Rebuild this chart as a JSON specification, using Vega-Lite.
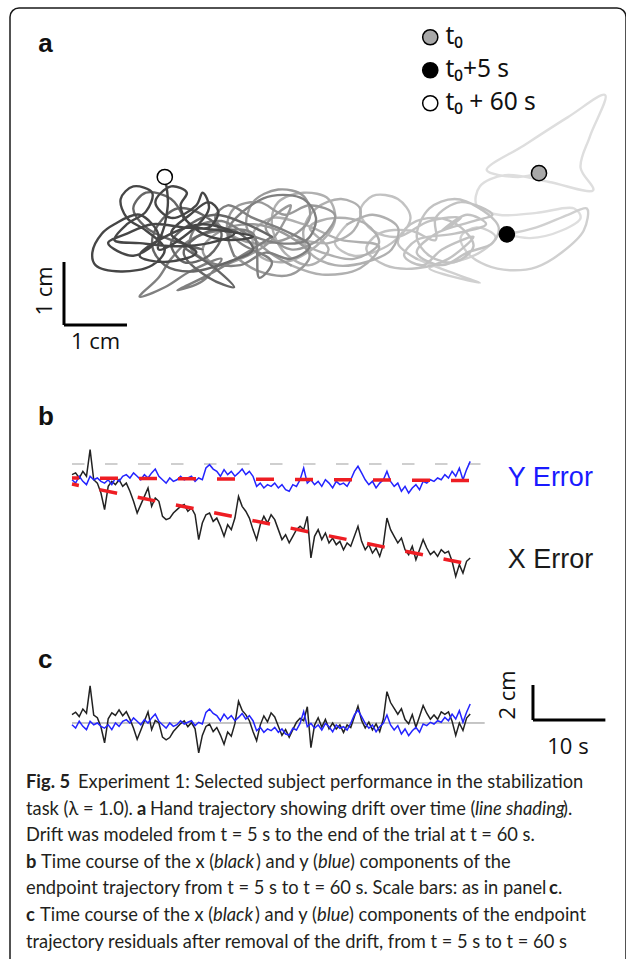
{
"$schema": "https://vega.github.io/schema/vega-lite/v6.json",
"width": 616, "height": 960,
"autosize": "none",
"padding": {"left": 10, "top": 8, "right": 0, "bottom": 0},
"background": "white",
"config": {"view": {"stroke": "#1a1a1a", "strokeWidth": 1.5, "cornerRadius": 9}, "axis": {"disable": true}, "text": {"font": "Lato", "fontSize": 18.3, "color": "#231f20", "align": "left", "baseline": "alphabetic"}},
"datasets": {
"one": [{}],
"traj": [
{"i":0,"s":1,"x":7.54,"y":2.41},{"i":1,"s":1,"x":7.2,"y":2.35},{"i":2,"s":1,"x":6.71,"y":2.46},{"i":3,"s":1,"x":7.3,"y":2.85},{"i":4,"s":1,"x":8.0,"y":3.3},{"i":5,"s":1,"x":8.59,"y":3.65},{"i":6,"s":1,"x":8.35,"y":3.0},{"i":7,"s":1,"x":8.2,"y":2.5},{"i":8,"s":1,"x":8.4,"y":2.14},{"i":9,"s":1,"x":7.7,"y":2.27},{"i":10,"s":1,"x":7.0,"y":2.38},{"i":11,"s":1,"x":6.6,"y":2.2},{"i":12,"s":1,"x":6.55,"y":1.9},{"i":13,"s":1,"x":6.9,"y":1.75},{"i":14,"s":1,"x":7.5,"y":1.78},{"i":15,"s":1,"x":8.1,"y":1.85},{"i":16,"s":1,"x":8.2,"y":1.7},{"i":17,"s":1,"x":7.9,"y":1.5},{"i":18,"s":1,"x":7.4,"y":1.38},{"i":19,"s":1,"x":7.03,"y":1.44},
{"i":20,"s":2,"x":7.03,"y":1.44},{"i":21,"s":2,"x":7.5,"y":1.55},{"i":22,"s":2,"x":8.0,"y":1.75},{"i":23,"s":2,"x":8.3,"y":1.85},{"i":24,"s":2,"x":8.25,"y":1.5},{"i":25,"s":2,"x":7.9,"y":1.15},{"i":26,"s":2,"x":7.5,"y":0.92},{"i":27,"s":2,"x":7.08,"y":0.87},{"i":28,"s":2,"x":6.7,"y":0.95},{"i":29,"s":2,"x":6.4,"y":1.15},{"i":30,"s":2,"x":6.3,"y":1.4},{"i":31,"s":2,"x":6.55,"y":1.55},{"i":32,"s":2,"x":6.85,"y":1.4},{"i":33,"s":2,"x":6.6,"y":1.15},{"i":34,"s":2,"x":6.2,"y":1.0},{"i":35,"s":2,"x":5.8,"y":0.9},{"i":36,"s":2,"x":6.6,"y":0.67},{"i":37,"s":2,"x":6.1,"y":0.85},{"i":38,"s":2,"x":5.6,"y":1.05},
{"i":39,"s":3,"x":5.6,"y":1.05},{"i":40,"s":3,"x":5.3,"y":1.3},{"i":41,"s":3,"x":5.5,"y":1.6},{"i":42,"s":3,"x":5.9,"y":1.7},{"i":43,"s":3,"x":6.3,"y":1.55},{"i":44,"s":3,"x":6.5,"y":1.25},{"i":45,"s":3,"x":6.2,"y":1.0},{"i":46,"s":3,"x":5.8,"y":1.1},{"i":47,"s":3,"x":5.6,"y":1.4},{"i":48,"s":3,"x":5.8,"y":1.85},{"i":49,"s":3,"x":6.2,"y":2.0},{"i":50,"s":3,"x":6.6,"y":1.85},{"i":51,"s":3,"x":6.9,"y":1.55},{"i":52,"s":3,"x":6.8,"y":1.3},{"i":53,"s":3,"x":6.4,"y":1.15},
{"i":53.1,"s":3,"x":6.0,"y":0.95},{"i":53.2,"s":3,"x":5.6,"y":1.15},{"i":53.3,"s":3,"x":5.9,"y":1.45},{"i":53.4,"s":3,"x":6.5,"y":1.65},{"i":53.5,"s":3,"x":6.8,"y":1.75},{"i":53.6,"s":3,"x":6.3,"y":1.95},{"i":53.7,"s":3,"x":5.9,"y":1.7},
{"i":54,"s":3,"x":5.9,"y":1.35},{"i":55,"s":3,"x":5.5,"y":1.5},{"i":56,"s":3,"x":5.0,"y":1.45},{"i":57,"s":3,"x":4.8,"y":1.2},{"i":58,"s":3,"x":5.1,"y":0.95},{"i":59,"s":3,"x":5.6,"y":0.9},{"i":60,"s":3,"x":6.1,"y":1.05},{"i":61,"s":3,"x":6.5,"y":1.4},
{"i":61.1,"s":3,"x":6.0,"y":1.2},{"i":61.2,"s":3,"x":5.7,"y":0.95},{"i":61.3,"s":3,"x":5.4,"y":1.1},{"i":61.4,"s":3,"x":5.6,"y":1.35},{"i":61.5,"s":3,"x":6.2,"y":1.45},{"i":61.6,"s":3,"x":6.7,"y":1.6},{"i":61.7,"s":3,"x":6.4,"y":1.75},{"i":61.8,"s":3,"x":6.0,"y":1.5},
{"i":62,"s":3,"x":6.3,"y":1.7},{"i":63,"s":3,"x":5.8,"y":1.65},{"i":64,"s":3,"x":5.3,"y":1.4},{"i":65,"s":3,"x":4.9,"y":1.5},{"i":66,"s":3,"x":4.7,"y":1.8},{"i":67,"s":3,"x":4.9,"y":2.05},{"i":68,"s":3,"x":5.3,"y":2.0},{"i":69,"s":3,"x":5.5,"y":1.7},{"i":70,"s":3,"x":5.2,"y":1.3},{"i":71,"s":3,"x":4.6,"y":1.1},{"i":72,"s":3,"x":4.3,"y":1.3},{"i":73,"s":3,"x":4.5,"y":1.6},
{"i":74,"s":4,"x":4.5,"y":1.6},{"i":75,"s":4,"x":4.9,"y":1.75},{"i":76,"s":4,"x":5.3,"y":1.55},{"i":77,"s":4,"x":5.2,"y":1.2},{"i":78,"s":4,"x":4.8,"y":1.0},{"i":79,"s":4,"x":4.3,"y":0.95},{"i":80,"s":4,"x":3.9,"y":1.15},{"i":81,"s":4,"x":3.8,"y":1.5},{"i":82,"s":4,"x":4.0,"y":1.85},{"i":83,"s":4,"x":4.4,"y":2.0},{"i":84,"s":4,"x":4.7,"y":1.85},{"i":85,"s":4,"x":4.6,"y":1.5},{"i":86,"s":4,"x":4.2,"y":1.3},{"i":87,"s":4,"x":3.7,"y":1.35},
{"i":87.1,"s":4,"x":4.1,"y":1.15},{"i":87.2,"s":4,"x":4.6,"y":1.05},{"i":87.3,"s":4,"x":5.0,"y":1.3},{"i":87.4,"s":4,"x":4.8,"y":1.6},{"i":87.5,"s":4,"x":4.3,"y":1.7},{"i":87.6,"s":4,"x":3.9,"y":1.55},{"i":87.7,"s":4,"x":4.2,"y":1.2},{"i":87.8,"s":4,"x":3.9,"y":0.95},{"i":87.9,"s":4,"x":3.5,"y":1.15},
{"i":88,"s":4,"x":3.3,"y":1.6},{"i":89,"s":4,"x":3.4,"y":1.95},{"i":90,"s":4,"x":3.8,"y":2.1},{"i":91,"s":4,"x":4.2,"y":2.0},{"i":92,"s":4,"x":4.3,"y":1.65},{"i":93,"s":4,"x":4.0,"y":1.25},{"i":94,"s":4,"x":3.5,"y":1.0},{"i":95,"s":4,"x":3.1,"y":1.1},{"i":96,"s":4,"x":3.0,"y":1.45},{"i":97,"s":4,"x":3.3,"y":1.7},{"i":98,"s":4,"x":3.8,"y":1.6},{"i":99,"s":4,"x":4.4,"y":1.35},{"i":100,"s":4,"x":5.0,"y":1.25},{"i":101,"s":4,"x":4.7,"y":0.9},{"i":102,"s":4,"x":4.1,"y":0.8},{"i":103,"s":4,"x":3.6,"y":0.95},
{"i":104,"s":5,"x":3.6,"y":0.95},{"i":105,"s":5,"x":3.2,"y":1.2},{"i":106,"s":5,"x":2.9,"y":1.55},{"i":107,"s":5,"x":3.0,"y":1.95},{"i":108,"s":5,"x":3.4,"y":2.15},{"i":109,"s":5,"x":3.8,"y":2.05},{"i":110,"s":5,"x":3.9,"y":1.7},{"i":111,"s":5,"x":3.6,"y":1.4},{"i":112,"s":5,"x":3.0,"y":1.3},{"i":113,"s":5,"x":2.6,"y":1.5},{"i":114,"s":5,"x":2.7,"y":1.85},{"i":115,"s":5,"x":3.1,"y":1.95},{"i":116,"s":5,"x":3.5,"y":1.75},
{"i":116.1,"s":5,"x":3.9,"y":1.9},{"i":116.2,"s":5,"x":4.3,"y":1.75},{"i":116.3,"s":5,"x":4.1,"y":1.4},{"i":116.4,"s":5,"x":3.6,"y":1.2},{"i":116.5,"s":5,"x":3.2,"y":1.55},{"i":116.6,"s":5,"x":3.6,"y":1.9},
{"i":117,"s":5,"x":3.3,"y":1.35},{"i":118,"s":5,"x":2.8,"y":1.05},{"i":119,"s":5,"x":2.4,"y":0.95},{"i":120,"s":5,"x":2.2,"y":1.2},{"i":121,"s":5,"x":2.5,"y":1.5},{"i":122,"s":5,"x":3.0,"y":1.6},{"i":123,"s":5,"x":3.5,"y":1.45},{"i":124,"s":5,"x":3.9,"y":1.1},{"i":125,"s":5,"x":3.6,"y":0.8},{"i":126,"s":5,"x":3.1,"y":0.85},{"i":127,"s":5,"x":2.7,"y":1.1},
{"i":128,"s":6,"x":2.7,"y":1.1},{"i":129,"s":6,"x":2.6,"y":1.5},{"i":130,"s":6,"x":2.9,"y":1.85},{"i":131,"s":6,"x":3.3,"y":2.05},{"i":132,"s":6,"x":3.8,"y":2.0},{"i":133,"s":6,"x":4.0,"y":1.7},{"i":134,"s":6,"x":3.85,"y":1.35},{"i":135,"s":6,"x":3.4,"y":1.3},{"i":136,"s":6,"x":2.9,"y":1.45},{"i":137,"s":6,"x":2.5,"y":1.65},{"i":138,"s":6,"x":2.1,"y":1.55},{"i":139,"s":6,"x":2.0,"y":1.25},{"i":140,"s":6,"x":2.3,"y":1.0},{"i":141,"s":6,"x":2.8,"y":0.95},{"i":142,"s":6,"x":3.2,"y":1.15},
{"i":142.1,"s":6,"x":3.6,"y":1.05},{"i":142.2,"s":6,"x":3.9,"y":1.25},{"i":142.3,"s":6,"x":3.5,"y":1.5},{"i":142.4,"s":6,"x":3.0,"y":1.7},{"i":142.5,"s":6,"x":2.6,"y":1.9},{"i":142.6,"s":6,"x":2.4,"y":1.7},{"i":142.7,"s":6,"x":2.8,"y":1.3},{"i":142.8,"s":6,"x":3.3,"y":1.0},{"i":142.9,"s":6,"x":3.1,"y":0.75},
{"i":143,"s":6,"x":3.0,"y":1.45},{"i":144,"s":6,"x":2.5,"y":1.5},{"i":145,"s":6,"x":2.0,"y":1.35},{"i":146,"s":6,"x":1.7,"y":1.05},{"i":147,"s":6,"x":1.5,"y":0.75},{"i":148,"s":6,"x":1.2,"y":0.45},{"i":149,"s":6,"x":1.6,"y":0.6},{"i":150,"s":6,"x":2.0,"y":0.85},{"i":151,"s":6,"x":2.5,"y":1.05},{"i":152,"s":6,"x":2.2,"y":0.7},{"i":153,"s":6,"x":1.8,"y":0.55},{"i":154,"s":6,"x":2.3,"y":0.8},{"i":155,"s":6,"x":2.9,"y":1.15},{"i":156,"s":6,"x":3.3,"y":1.4},
{"i":157,"s":7,"x":3.3,"y":1.4},{"i":158,"s":7,"x":2.9,"y":1.6},{"i":159,"s":7,"x":2.4,"y":1.75},{"i":160,"s":7,"x":2.0,"y":1.6},{"i":161,"s":7,"x":1.7,"y":1.3},{"i":162,"s":7,"x":1.9,"y":1.0},{"i":163,"s":7,"x":2.3,"y":1.1},{"i":164,"s":7,"x":2.5,"y":1.45},{"i":165,"s":7,"x":2.2,"y":1.75},{"i":166,"s":7,"x":1.8,"y":1.85},{"i":167,"s":7,"x":1.5,"y":1.6},{"i":168,"s":7,"x":1.4,"y":1.25},{"i":169,"s":7,"x":1.6,"y":0.95},{"i":170,"s":7,"x":2.0,"y":0.85},{"i":171,"s":7,"x":2.6,"y":1.0},
{"i":171.1,"s":7,"x":3.0,"y":1.2},{"i":171.2,"s":7,"x":2.7,"y":1.5},{"i":171.3,"s":7,"x":2.2,"y":1.45},{"i":171.4,"s":7,"x":1.9,"y":1.15},{"i":171.5,"s":7,"x":2.3,"y":0.75},{"i":171.6,"s":7,"x":2.7,"y":0.6},{"i":171.7,"s":7,"x":2.4,"y":0.9},{"i":171.8,"s":7,"x":1.9,"y":1.25},
{"i":172,"s":7,"x":2.2,"y":1.2},{"i":173,"s":7,"x":1.7,"y":1.35},{"i":174,"s":7,"x":1.3,"y":1.55},{"i":175,"s":7,"x":1.1,"y":1.85},{"i":176,"s":7,"x":1.3,"y":2.1},{"i":177,"s":7,"x":1.7,"y":2.0},{"i":178,"s":7,"x":1.9,"y":1.7},
{"i":179,"s":8,"x":1.9,"y":1.7},{"i":180,"s":8,"x":2.2,"y":1.45},{"i":181,"s":8,"x":2.6,"y":1.35},{"i":182,"s":8,"x":3.0,"y":1.4},{"i":183,"s":8,"x":2.5,"y":1.5},{"i":184,"s":8,"x":1.9,"y":1.55},{"i":185,"s":8,"x":1.4,"y":1.6},{"i":186,"s":8,"x":1.0,"y":1.45},{"i":187,"s":8,"x":0.7,"y":1.3},
{"i":187.1,"s":8,"x":1.1,"y":1.1},{"i":187.2,"s":8,"x":1.5,"y":1.4},{"i":187.3,"s":8,"x":1.2,"y":1.75},{"i":187.4,"s":8,"x":0.8,"y":1.6},{"i":187.5,"s":8,"x":0.6,"y":1.45},
{"i":188,"s":8,"x":0.45,"y":1.15},{"i":189,"s":8,"x":0.5,"y":0.95},{"i":190,"s":8,"x":0.9,"y":0.85},{"i":191,"s":8,"x":1.4,"y":0.95},{"i":192,"s":8,"x":1.6,"y":1.2},{"i":193,"s":8,"x":1.3,"y":1.5},{"i":194,"s":8,"x":1.0,"y":1.7},{"i":195,"s":8,"x":0.9,"y":2.0},{"i":196,"s":8,"x":1.1,"y":2.2},{"i":197,"s":8,"x":1.4,"y":2.1},{"i":198,"s":8,"x":1.3,"y":1.8},{"i":199,"s":8,"x":1.0,"y":1.6},{"i":200,"s":8,"x":0.8,"y":1.35},{"i":201,"s":8,"x":1.2,"y":1.3},
{"i":201.1,"s":8,"x":1.8,"y":1.25},{"i":201.2,"s":8,"x":2.3,"y":1.3},{"i":201.3,"s":8,"x":2.7,"y":1.45},{"i":201.4,"s":8,"x":2.2,"y":1.6},{"i":201.5,"s":8,"x":1.6,"y":1.4},{"i":201.6,"s":8,"x":1.2,"y":1.1},{"i":201.7,"s":8,"x":1.6,"y":1.0},{"i":201.8,"s":8,"x":2.1,"y":1.15},
{"i":202,"s":8,"x":1.7,"y":1.45},{"i":203,"s":8,"x":2.0,"y":1.75},{"i":204,"s":8,"x":2.3,"y":1.95},{"i":205,"s":8,"x":2.45,"y":1.8},{"i":206,"s":8,"x":2.3,"y":1.55},{"i":207,"s":8,"x":2.0,"y":1.6},{"i":208,"s":8,"x":1.85,"y":1.9},{"i":209,"s":8,"x":1.95,"y":2.1},
{"i":209.1,"s":8,"x":1.7,"y":2.2},{"i":209.2,"s":8,"x":1.45,"y":1.95},{"i":209.3,"s":8,"x":1.7,"y":1.7},{"i":209.4,"s":8,"x":2.1,"y":1.9},
{"i":210,"s":8,"x":2.2,"y":2.1},{"i":211,"s":8,"x":2.3,"y":1.85},{"i":212,"s":8,"x":1.9,"y":1.4},{"i":213,"s":8,"x":1.5,"y":1.2},{"i":214,"s":8,"x":1.6,"y":1.6},{"i":215,"s":8,"x":1.65,"y":1.95},{"i":216,"s":8,"x":1.6,"y":2.35}
],
"markers": [
{"marker":"t₀","x":7.54,"y":2.41},
{"marker":"t₀+5 s","x":7.03,"y":1.44},
{"marker":"t₀ + 60 s","x":1.6,"y":2.35}
],
"series": [
{"t":5,"xerr":-0.61,"yerr":-0.9,"xres":0.48,"yres":-0.1},
{"t":5.5,"xerr":-0.51,"yerr":-1.09,"xres":0.62,"yres":-0.29},
{"t":6,"xerr":-0.8,"yerr":-0.7,"xres":0.37,"yres":0.1},
{"t":6.5,"xerr":-0.42,"yerr":-0.99,"xres":0.8,"yres":-0.19},
{"t":7,"xerr":-0.7,"yerr":-1.18,"xres":0.56,"yres":-0.38},
{"t":7.5,"xerr":0.82,"yerr":-0.7,"xres":2.12,"yres":0.1},
{"t":8,"xerr":-0.9,"yerr":-0.9,"xres":0.45,"yres":-0.1},
{"t":8.5,"xerr":-1.09,"yerr":-0.8,"xres":0.3,"yres":0},
{"t":9,"xerr":-1.66,"yerr":-0.99,"xres":-0.23,"yres":-0.19},
{"t":9.5,"xerr":-2.61,"yerr":-1.09,"xres":-1.13,"yres":-0.29},
{"t":10,"xerr":-1.28,"yerr":-0.9,"xres":0.24,"yres":-0.1},
{"t":10.5,"xerr":-0.99,"yerr":-1.18,"xres":0.58,"yres":-0.38},
{"t":11,"xerr":-1.18,"yerr":-0.8,"xres":0.43,"yres":0},
{"t":11.5,"xerr":-0.9,"yerr":-0.99,"xres":0.75,"yres":-0.19},
{"t":12,"xerr":-1.28,"yerr":-0.7,"xres":0.42,"yres":0.1},
{"t":12.5,"xerr":-1.09,"yerr":-0.61,"xres":0.65,"yres":0.19},
{"t":13,"xerr":-1.56,"yerr":-0.8,"xres":0.22,"yres":0},
{"t":13.5,"xerr":-2.13,"yerr":-0.51,"xres":-0.3,"yres":0.29},
{"t":14,"xerr":-2.8,"yerr":-0.7,"xres":-0.93,"yres":0.1},
{"t":14.5,"xerr":-2.32,"yerr":-0.9,"xres":-0.41,"yres":-0.1},
{"t":15,"xerr":-1.85,"yerr":-0.61,"xres":0.11,"yres":0.19},
{"t":15.5,"xerr":-1.37,"yerr":-0.8,"xres":0.63,"yres":0},
{"t":16,"xerr":-2.42,"yerr":-0.51,"xres":-0.38,"yres":0.29},
{"t":16.5,"xerr":-1.94,"yerr":-0.29,"xres":0.15,"yres":0.51},
{"t":17,"xerr":-2.13,"yerr":-0.7,"xres":0,"yres":0.1},
{"t":17.5,"xerr":-2.99,"yerr":-0.9,"xres":-0.81,"yres":-0.1},
{"t":18,"xerr":-3.18,"yerr":-1.09,"xres":-0.96,"yres":-0.29},
{"t":18.5,"xerr":-3.09,"yerr":-0.8,"xres":-0.83,"yres":0},
{"t":19,"xerr":-2.8,"yerr":-0.99,"xres":-0.49,"yres":-0.19},
{"t":19.5,"xerr":-2.61,"yerr":-0.9,"xres":-0.26,"yres":-0.1},
{"t":20,"xerr":-2.42,"yerr":-0.7,"xres":-0.03,"yres":0.13},
{"t":20.5,"xerr":-2.32,"yerr":-0.9,"xres":0.12,"yres":-0.06},
{"t":21,"xerr":-2.7,"yerr":-0.8,"xres":-0.22,"yres":0.04},
{"t":21.5,"xerr":-2.51,"yerr":-0.7,"xres":0.02,"yres":0.13},
{"t":22,"xerr":-2.9,"yerr":-0.99,"xres":-0.33,"yres":-0.15},
{"t":22.5,"xerr":-4.32,"yerr":-0.8,"xres":-1.71,"yres":0.04},
{"t":23,"xerr":-3.37,"yerr":-0.9,"xres":-0.71,"yres":-0.06},
{"t":23.5,"xerr":-2.9,"yerr":-0.23,"xres":-0.2,"yres":0.61},
{"t":24,"xerr":-2.8,"yerr":-0.04,"xres":-0.06,"yres":0.8},
{"t":24.5,"xerr":-3.28,"yerr":-0.29,"xres":-0.49,"yres":0.55},
{"t":25,"xerr":-3.09,"yerr":-0.42,"xres":-0.26,"yres":0.42},
{"t":25.5,"xerr":-3.56,"yerr":-0.7,"xres":-0.69,"yres":0.13},
{"t":26,"xerr":-4.13,"yerr":-0.32,"xres":-1.21,"yres":0.51},
{"t":26.5,"xerr":-3.47,"yerr":-0.61,"xres":-0.51,"yres":0.23},
{"t":27,"xerr":-3.75,"yerr":-0.42,"xres":-0.75,"yres":0.42},
{"t":27.5,"xerr":-3.09,"yerr":-0.7,"xres":-0.04,"yres":0.13},
{"t":28,"xerr":-1.85,"yerr":-0.51,"xres":1.24,"yres":0.32},
{"t":28.5,"xerr":-2.42,"yerr":-0.29,"xres":0.72,"yres":0.55},
{"t":29,"xerr":-2.7,"yerr":-0.61,"xres":0.48,"yres":0.23},
{"t":29.5,"xerr":-3.09,"yerr":-0.42,"xres":0.13,"yres":0.42},
{"t":30,"xerr":-3.75,"yerr":-0.7,"xres":-0.48,"yres":0.13},
{"t":30.5,"xerr":-4.32,"yerr":-1.28,"xres":-1.01,"yres":-0.44},
{"t":31,"xerr":-3.47,"yerr":-1.09,"xres":-0.12,"yres":-0.25},
{"t":31.5,"xerr":-2.99,"yerr":-1.37,"xres":0.41,"yres":-0.53},
{"t":32,"xerr":-3.37,"yerr":-1.18,"xres":0.07,"yres":-0.34},
{"t":32.5,"xerr":-2.9,"yerr":-1.28,"xres":0.58,"yres":-0.44},
{"t":33,"xerr":-3.18,"yerr":-1.09,"xres":0.35,"yres":-0.25},
{"t":33.5,"xerr":-3.75,"yerr":-1.37,"xres":-0.18,"yres":-0.53},
{"t":34,"xerr":-4.32,"yerr":-1.18,"xres":-0.71,"yres":-0.34},
{"t":34.5,"xerr":-4.04,"yerr":-1.47,"xres":-0.38,"yres":-0.63},
{"t":35,"xerr":-4.51,"yerr":-1.56,"xres":-0.81,"yres":-0.69},
{"t":35.5,"xerr":-4.13,"yerr":-1.18,"xres":-0.38,"yres":-0.3},
{"t":36,"xerr":-3.75,"yerr":-1.28,"xres":0.04,"yres":-0.4},
{"t":36.5,"xerr":-3.56,"yerr":-0.9,"xres":0.27,"yres":-0.02},
{"t":37,"xerr":-3.75,"yerr":-0.23,"xres":0.13,"yres":0.65},
{"t":37.5,"xerr":-2.99,"yerr":-1.09,"xres":0.93,"yres":-0.21},
{"t":38,"xerr":-5.37,"yerr":-0.9,"xres":-1.41,"yres":-0.02},
{"t":38.5,"xerr":-4.13,"yerr":-1.18,"xres":-0.12,"yres":-0.3},
{"t":39,"xerr":-3.75,"yerr":-0.99,"xres":0.3,"yres":-0.11},
{"t":39.5,"xerr":-4.32,"yerr":-1.28,"xres":-0.23,"yres":-0.4},
{"t":40,"xerr":-3.94,"yerr":-0.9,"xres":0.2,"yres":-0.02},
{"t":40.5,"xerr":-4.51,"yerr":-1.09,"xres":-0.33,"yres":-0.21},
{"t":41,"xerr":-4.23,"yerr":-1.37,"xres":0,"yres":-0.5},
{"t":41.5,"xerr":-4.61,"yerr":-0.99,"xres":-0.34,"yres":-0.11},
{"t":42,"xerr":-4.42,"yerr":-1.18,"xres":-0.11,"yres":-0.3},
{"t":42.5,"xerr":-4.9,"yerr":-1.09,"xres":-0.54,"yres":-0.21},
{"t":43,"xerr":-4.51,"yerr":-1.28,"xres":-0.11,"yres":-0.4},
{"t":43.5,"xerr":-4.7,"yerr":-0.9,"xres":-0.26,"yres":-0.02},
{"t":44,"xerr":-4.13,"yerr":-0.42,"xres":0.36,"yres":0.46},
{"t":44.5,"xerr":-3.56,"yerr":-0.13,"xres":0.97,"yres":0.74},
{"t":45,"xerr":-4.42,"yerr":-0.51,"xres":0.15,"yres":0.36},
{"t":45.5,"xerr":-4.9,"yerr":-0.9,"xres":-0.28,"yres":-0.02},
{"t":46,"xerr":-4.61,"yerr":-1.18,"xres":0.05,"yres":-0.3},
{"t":46.5,"xerr":-5.09,"yerr":-0.99,"xres":-0.39,"yres":-0.11},
{"t":47,"xerr":-4.8,"yerr":-1.37,"xres":-0.05,"yres":-0.5},
{"t":47.5,"xerr":-5.28,"yerr":-1.09,"xres":-0.49,"yres":-0.21},
{"t":48,"xerr":-4.61,"yerr":-0.9,"xres":0.23,"yres":-0.02},
{"t":48.5,"xerr":-3.09,"yerr":-0.42,"xres":1.79,"yres":0.46},
{"t":49,"xerr":-3.75,"yerr":-0.99,"xres":1.17,"yres":-0.11},
{"t":49.5,"xerr":-4.13,"yerr":-1.28,"xres":0.84,"yres":-0.4},
{"t":50,"xerr":-4.51,"yerr":-1.09,"xres":0.5,"yres":-0.15},
{"t":50.5,"xerr":-4.23,"yerr":-1.56,"xres":0.82,"yres":-0.63},
{"t":51,"xerr":-4.9,"yerr":-1.28,"xres":0.2,"yres":-0.34},
{"t":51.5,"xerr":-5.18,"yerr":-1.66,"xres":-0.04,"yres":-0.72},
{"t":52,"xerr":-4.7,"yerr":-1.37,"xres":0.48,"yres":-0.44},
{"t":52.5,"xerr":-5.47,"yerr":-1.18,"xres":-0.24,"yres":-0.25},
{"t":53,"xerr":-4.9,"yerr":-1.47,"xres":0.37,"yres":-0.53},
{"t":53.5,"xerr":-4.32,"yerr":-0.99,"xres":1,"yres":-0.06},
{"t":54,"xerr":-4.8,"yerr":-1.09,"xres":0.56,"yres":-0.15},
{"t":54.5,"xerr":-5.18,"yerr":-0.9,"xres":0.22,"yres":0.04},
{"t":55,"xerr":-4.99,"yerr":-0.99,"xres":0.46,"yres":-0.06},
{"t":55.5,"xerr":-5.28,"yerr":-0.8,"xres":0.21,"yres":0.13},
{"t":56,"xerr":-4.9,"yerr":-0.9,"xres":0.63,"yres":0.04},
{"t":56.5,"xerr":-5.09,"yerr":-0.61,"xres":0.49,"yres":0.32},
{"t":57,"xerr":-4.99,"yerr":-0.8,"xres":0.63,"yres":0.13},
{"t":57.5,"xerr":-5.56,"yerr":-0.42,"xres":0.1,"yres":0.51},
{"t":58,"xerr":-6.42,"yerr":-0.7,"xres":-0.71,"yres":0.23},
{"t":58.5,"xerr":-5.75,"yerr":-0.23,"xres":0,"yres":0.7},
{"t":59,"xerr":-6.23,"yerr":-0.9,"xres":-0.43,"yres":0.04},
{"t":59.5,"xerr":-5.56,"yerr":-0.32,"xres":0.28,"yres":0.61},
{"t":60,"xerr":-5.37,"yerr":0.15,"xres":0.51,"yres":1.09}
]
},
"layer": [
{
"layer": [
{"data": {"name": "traj"}, "mark": {"type": "line", "interpolate": "catmull-rom", "strokeWidth": 2.4, "strokeCap": "round", "strokeJoin": "round"},
 "encoding": {"x": {"field": "x", "type": "quantitative", "scale": {"domain": [-0.857, 8.921], "nice": false, "zero": false}},
  "y": {"field": "y", "type": "quantitative", "scale": {"domain": [-10.206, 5.032], "nice": false, "zero": false}},
  "stroke": {"field": "s", "type": "ordinal", "legend": null, "scale": {"domain": [1,2,3,4,5,6,7,8], "range": ["#dedede","#d0d0d0","#c2c2c2","#b0b0b0","#9a9a9a","#808080","#666666","#464646"]}},
  "order": {"field": "i", "type": "quantitative"}}},
{"data": {"name": "markers"}, "mark": {"type": "circle", "size": 230, "stroke": "#000", "strokeWidth": 1.5, "opacity": 1},
 "encoding": {"x": {"field": "x", "type": "quantitative", "scale": {"domain": [-0.857, 8.921], "nice": false, "zero": false}},
  "y": {"field": "y", "type": "quantitative", "scale": {"domain": [-10.206, 5.032], "nice": false, "zero": false}},
  "fill": {"field": "marker", "type": "nominal", "scale": {"domain": ["t₀","t₀+5 s","t₀ + 60 s"], "range": ["#a8a8a8","#000000","#ffffff"]},
   "legend": {"orient": "none", "legendX": 408, "legendY": 17, "title": null, "labelFont": "Noto Sans", "labelFontSize": 24.5, "labelColor": "#111", "symbolType": "circle", "symbolSize": 230, "symbolStrokeColor": "#000", "symbolStrokeWidth": 1.5, "symbolOpacity": 1, "rowPadding": 8, "labelOffset": 3, "labelLimit": 300}}}},
{"data": {"name": "one"}, "mark": {"type": "rule", "strokeWidth": 3, "color": "#000"},
 "encoding": {"x": {"datum": 0, "type": "quantitative", "scale": {"domain": [-0.857, 8.921], "nice": false, "zero": false}},
  "y": {"datum": 0, "type": "quantitative", "scale": {"domain": [-10.206, 5.032], "nice": false, "zero": false}},
  "y2": {"datum": 1}}},
{"data": {"name": "one"}, "mark": {"type": "rule", "strokeWidth": 3, "color": "#000"},
 "encoding": {"x": {"datum": 0, "type": "quantitative", "scale": {"domain": [-0.857, 8.921], "nice": false, "zero": false}},
  "x2": {"datum": 1},
  "y": {"datum": 0, "type": "quantitative", "scale": {"domain": [-10.206, 5.032], "nice": false, "zero": false}}}},
{"data": {"name": "one"}, "mark": {"type": "text", "font": "Open Sans", "fontSize": 22, "angle": 270, "align": "center", "baseline": "middle", "color": "#111"},
 "encoding": {"x": {"datum": -0.3, "type": "quantitative", "scale": {"domain": [-0.857, 8.921], "nice": false, "zero": false}},
  "y": {"datum": 0.54, "type": "quantitative", "scale": {"domain": [-10.206, 5.032], "nice": false, "zero": false}},
  "text": {"value": "1 cm"}}},
{"data": {"name": "one"}, "mark": {"type": "text", "font": "Open Sans", "fontSize": 22, "align": "center", "baseline": "middle", "color": "#111"},
 "encoding": {"x": {"datum": 0.5, "type": "quantitative", "scale": {"domain": [-0.857, 8.921], "nice": false, "zero": false}},
  "y": {"datum": -0.27, "type": "quantitative", "scale": {"domain": [-10.206, 5.032], "nice": false, "zero": false}},
  "text": {"value": "1 cm"}}},
{"data": {"name": "one"}, "mark": {"type": "text", "font": "Liberation Sans", "fontWeight": "bold", "fontSize": 26, "align": "left", "baseline": "alphabetic", "color": "#111"},
 "encoding": {"x": {"datum": -0.41, "type": "quantitative", "scale": {"domain": [-0.857, 8.921], "nice": false, "zero": false}},
  "y": {"datum": 4.33, "type": "quantitative", "scale": {"domain": [-10.206, 5.032], "nice": false, "zero": false}},
  "text": {"value": "a"}}}
]
},
{
"data": {"name": "series"},
"layer": [
{"data": {"name": "one"}, "mark": {"type": "rule", "color": "#a0a0a0", "strokeWidth": 1.2, "strokeDash": [12.5, 20.5]},
 "encoding": {"x": {"datum": 5, "type": "quantitative", "scale": {"domain": [-3.564, 81.519], "nice": false, "zero": false}},
  "x2": {"datum": 62},
  "y": {"datum": 0, "type": "quantitative", "scale": {"domain": [-28.8, 26.057], "nice": false, "zero": false}}}},
{"mark": {"type": "line", "color": "#222222", "strokeWidth": 1.5},
 "encoding": {"x": {"field": "t", "type": "quantitative", "scale": {"domain": [-3.564, 81.519], "nice": false, "zero": false}},
  "y": {"field": "xerr", "type": "quantitative", "scale": {"domain": [-28.8, 26.057], "nice": false, "zero": false}}}},
{"mark": {"type": "line", "color": "#2424ff", "strokeWidth": 1.5},
 "encoding": {"x": {"field": "t", "type": "quantitative", "scale": {"domain": [-3.564, 81.519], "nice": false, "zero": false}},
  "y": {"field": "yerr", "type": "quantitative", "scale": {"domain": [-28.8, 26.057], "nice": false, "zero": false}}}},
{"transform": [{"regression": "xerr", "on": "t", "extent": [5, 60]}],
 "mark": {"type": "line", "color": "#ee1d23", "strokeWidth": 3.5, "strokeDash": [18, 21], "strokeDashOffset": 11, "strokeCap": "butt"},
 "encoding": {"x": {"field": "t", "type": "quantitative", "scale": {"domain": [-3.564, 81.519], "nice": false, "zero": false}},
  "y": {"field": "xerr", "type": "quantitative", "scale": {"domain": [-28.8, 26.057], "nice": false, "zero": false}}}},
{"transform": [{"regression": "yerr", "on": "t", "extent": [5, 60]}],
 "mark": {"type": "line", "color": "#ee1d23", "strokeWidth": 3.5, "strokeDash": [18, 21], "strokeDashOffset": 11, "strokeCap": "butt"},
 "encoding": {"x": {"field": "t", "type": "quantitative", "scale": {"domain": [-3.564, 81.519], "nice": false, "zero": false}},
  "y": {"field": "yerr", "type": "quantitative", "scale": {"domain": [-28.8, 26.057], "nice": false, "zero": false}}}},
{"data": {"name": "one"}, "mark": {"type": "text", "font": "Liberation Sans", "fontSize": 27, "align": "left", "baseline": "middle", "color": "#1a1aff"},
 "encoding": {"x": {"datum": 65.2, "type": "quantitative", "scale": {"domain": [-3.564, 81.519], "nice": false, "zero": false}},
  "y": {"datum": -0.8, "type": "quantitative", "scale": {"domain": [-28.8, 26.057], "nice": false, "zero": false}},
  "text": {"value": "Y Error"}}},
{"data": {"name": "one"}, "mark": {"type": "text", "font": "Liberation Sans", "fontSize": 27, "align": "left", "baseline": "middle", "color": "#1a1a1a"},
 "encoding": {"x": {"datum": 65.2, "type": "quantitative", "scale": {"domain": [-3.564, 81.519], "nice": false, "zero": false}},
  "y": {"datum": -5.49, "type": "quantitative", "scale": {"domain": [-28.8, 26.057], "nice": false, "zero": false}},
  "text": {"value": "X Error"}}},
{"data": {"name": "one"}, "mark": {"type": "text", "font": "Liberation Sans", "fontWeight": "bold", "fontSize": 26, "align": "left", "baseline": "alphabetic", "color": "#111"},
 "encoding": {"x": {"datum": 0.3, "type": "quantitative", "scale": {"domain": [-3.564, 81.519], "nice": false, "zero": false}},
  "y": {"datum": 2.23, "type": "quantitative", "scale": {"domain": [-28.8, 26.057], "nice": false, "zero": false}},
  "text": {"value": "b"}}}
]
},
{
"data": {"name": "series"},
"layer": [
{"data": {"name": "one"}, "mark": {"type": "rule", "color": "#8c8c8c", "strokeWidth": 1},
 "encoding": {"x": {"datum": 5, "type": "quantitative", "scale": {"domain": [-3.564, 81.519], "nice": false, "zero": false}},
  "x2": {"datum": 62},
  "y": {"datum": 0, "type": "quantitative", "scale": {"domain": [-14.0, 40.857], "nice": false, "zero": false}}}},
{"mark": {"type": "line", "color": "#222222", "strokeWidth": 1.5},
 "encoding": {"x": {"field": "t", "type": "quantitative", "scale": {"domain": [-3.564, 81.519], "nice": false, "zero": false}},
  "y": {"field": "xres", "type": "quantitative", "scale": {"domain": [-14.0, 40.857], "nice": false, "zero": false}}}},
{"mark": {"type": "line", "color": "#2424ff", "strokeWidth": 1.5},
 "encoding": {"x": {"field": "t", "type": "quantitative", "scale": {"domain": [-3.564, 81.519], "nice": false, "zero": false}},
  "y": {"field": "yres", "type": "quantitative", "scale": {"domain": [-14.0, 40.857], "nice": false, "zero": false}}}},
{"data": {"name": "one"}, "mark": {"type": "rule", "strokeWidth": 3, "color": "#000"},
 "encoding": {"x": {"datum": 68.67, "type": "quantitative", "scale": {"domain": [-3.564, 81.519], "nice": false, "zero": false}},
  "y": {"datum": 0.17, "type": "quantitative", "scale": {"domain": [-14.0, 40.857], "nice": false, "zero": false}},
  "y2": {"datum": 2.17}}},
{"data": {"name": "one"}, "mark": {"type": "rule", "strokeWidth": 3, "color": "#000"},
 "encoding": {"x": {"datum": 68.67, "type": "quantitative", "scale": {"domain": [-3.564, 81.519], "nice": false, "zero": false}},
  "x2": {"datum": 78.67},
  "y": {"datum": 0.17, "type": "quantitative", "scale": {"domain": [-14.0, 40.857], "nice": false, "zero": false}}}},
{"data": {"name": "one"}, "mark": {"type": "text", "font": "Open Sans", "fontSize": 22, "angle": 270, "align": "center", "baseline": "middle", "color": "#111"},
 "encoding": {"x": {"datum": 65.2, "type": "quantitative", "scale": {"domain": [-3.564, 81.519], "nice": false, "zero": false}},
  "y": {"datum": 1.6, "type": "quantitative", "scale": {"domain": [-14.0, 40.857], "nice": false, "zero": false}},
  "text": {"value": "2 cm"}}},
{"data": {"name": "one"}, "mark": {"type": "text", "font": "Open Sans", "fontSize": 22, "align": "center", "baseline": "middle", "color": "#111"},
 "encoding": {"x": {"datum": 73.5, "type": "quantitative", "scale": {"domain": [-3.564, 81.519], "nice": false, "zero": false}},
  "y": {"datum": -1.37, "type": "quantitative", "scale": {"domain": [-14.0, 40.857], "nice": false, "zero": false}},
  "text": {"value": "10 s"}}},
{"data": {"name": "one"}, "mark": {"type": "text", "font": "Liberation Sans", "fontWeight": "bold", "fontSize": 26, "align": "left", "baseline": "alphabetic", "color": "#111"},
 "encoding": {"x": {"datum": 0.3, "type": "quantitative", "scale": {"domain": [-3.564, 81.519], "nice": false, "zero": false}},
  "y": {"datum": 3.14, "type": "quantitative", "scale": {"domain": [-14.0, 40.857], "nice": false, "zero": false}},
  "text": {"value": "c"}}}
]
},
{
"data": {"name": "one"},
"layer": [
{"mark": {"type": "text", "fontWeight": "bold"}, "encoding": {"x": {"datum": 26, "type": "quantitative", "scale": {"domain": [10, 626], "nice": false, "zero": false}}, "y": {"datum": 1, "type": "quantitative", "scale": {"domain": [-28.323, 7.767], "reverse": true, "nice": false, "zero": false}}, "text": {"value": "Fig. 5"}}},
{"mark": {"type": "text"}, "encoding": {"x": {"datum": 78, "type": "quantitative", "scale": {"domain": [10, 626], "nice": false, "zero": false}}, "y": {"datum": 1, "type": "quantitative", "scale": {"domain": [-28.323, 7.767], "reverse": true, "nice": false, "zero": false}}, "text": {"value": "Experiment 1: Selected subject performance in the stabilization"}}},
{"mark": {"type": "text"}, "encoding": {"x": {"datum": 26, "type": "quantitative", "scale": {"domain": [10, 626], "nice": false, "zero": false}}, "y": {"datum": 2, "type": "quantitative", "scale": {"domain": [-28.323, 7.767], "reverse": true, "nice": false, "zero": false}}, "text": {"value": "task (λ = 1.0)."}}},
{"mark": {"type": "text", "fontWeight": "bold"}, "encoding": {"x": {"datum": 137, "type": "quantitative", "scale": {"domain": [10, 626], "nice": false, "zero": false}}, "y": {"datum": 2, "type": "quantitative", "scale": {"domain": [-28.323, 7.767], "reverse": true, "nice": false, "zero": false}}, "text": {"value": "a"}}},
{"mark": {"type": "text"}, "encoding": {"x": {"datum": 150, "type": "quantitative", "scale": {"domain": [10, 626], "nice": false, "zero": false}}, "y": {"datum": 2, "type": "quantitative", "scale": {"domain": [-28.323, 7.767], "reverse": true, "nice": false, "zero": false}}, "text": {"value": "Hand trajectory showing drift over time ("}}},
{"mark": {"type": "text", "fontStyle": "italic"}, "encoding": {"x": {"datum": 475, "type": "quantitative", "scale": {"domain": [10, 626], "nice": false, "zero": false}}, "y": {"datum": 2, "type": "quantitative", "scale": {"domain": [-28.323, 7.767], "reverse": true, "nice": false, "zero": false}}, "text": {"value": "line shading"}}},
{"mark": {"type": "text"}, "encoding": {"x": {"datum": 563, "type": "quantitative", "scale": {"domain": [10, 626], "nice": false, "zero": false}}, "y": {"datum": 2, "type": "quantitative", "scale": {"domain": [-28.323, 7.767], "reverse": true, "nice": false, "zero": false}}, "text": {"value": ")."}}},
{"mark": {"type": "text"}, "encoding": {"x": {"datum": 26, "type": "quantitative", "scale": {"domain": [10, 626], "nice": false, "zero": false}}, "y": {"datum": 3, "type": "quantitative", "scale": {"domain": [-28.323, 7.767], "reverse": true, "nice": false, "zero": false}}, "text": {"value": "Drift was modeled from t = 5 s to the end of the trial at t = 60 s."}}},
{"mark": {"type": "text", "fontWeight": "bold"}, "encoding": {"x": {"datum": 26, "type": "quantitative", "scale": {"domain": [10, 626], "nice": false, "zero": false}}, "y": {"datum": 4, "type": "quantitative", "scale": {"domain": [-28.323, 7.767], "reverse": true, "nice": false, "zero": false}}, "text": {"value": "b"}}},
{"mark": {"type": "text"}, "encoding": {"x": {"datum": 41, "type": "quantitative", "scale": {"domain": [10, 626], "nice": false, "zero": false}}, "y": {"datum": 4, "type": "quantitative", "scale": {"domain": [-28.323, 7.767], "reverse": true, "nice": false, "zero": false}}, "text": {"value": "Time course of the x ("}}},
{"mark": {"type": "text", "fontStyle": "italic"}, "encoding": {"x": {"datum": 214, "type": "quantitative", "scale": {"domain": [10, 626], "nice": false, "zero": false}}, "y": {"datum": 4, "type": "quantitative", "scale": {"domain": [-28.323, 7.767], "reverse": true, "nice": false, "zero": false}}, "text": {"value": "black"}}},
{"mark": {"type": "text"}, "encoding": {"x": {"datum": 256, "type": "quantitative", "scale": {"domain": [10, 626], "nice": false, "zero": false}}, "y": {"datum": 4, "type": "quantitative", "scale": {"domain": [-28.323, 7.767], "reverse": true, "nice": false, "zero": false}}, "text": {"value": ") and y ("}}},
{"mark": {"type": "text", "fontStyle": "italic"}, "encoding": {"x": {"datum": 318, "type": "quantitative", "scale": {"domain": [10, 626], "nice": false, "zero": false}}, "y": {"datum": 4, "type": "quantitative", "scale": {"domain": [-28.323, 7.767], "reverse": true, "nice": false, "zero": false}}, "text": {"value": "blue"}}},
{"mark": {"type": "text"}, "encoding": {"x": {"datum": 350, "type": "quantitative", "scale": {"domain": [10, 626], "nice": false, "zero": false}}, "y": {"datum": 4, "type": "quantitative", "scale": {"domain": [-28.323, 7.767], "reverse": true, "nice": false, "zero": false}}, "text": {"value": ") components of the"}}},
{"mark": {"type": "text"}, "encoding": {"x": {"datum": 26, "type": "quantitative", "scale": {"domain": [10, 626], "nice": false, "zero": false}}, "y": {"datum": 5, "type": "quantitative", "scale": {"domain": [-28.323, 7.767], "reverse": true, "nice": false, "zero": false}}, "text": {"value": "endpoint trajectory from t = 5 s to t = 60 s. Scale bars: as in panel"}}},
{"mark": {"type": "text", "fontWeight": "bold"}, "encoding": {"x": {"datum": 549, "type": "quantitative", "scale": {"domain": [10, 626], "nice": false, "zero": false}}, "y": {"datum": 5, "type": "quantitative", "scale": {"domain": [-28.323, 7.767], "reverse": true, "nice": false, "zero": false}}, "text": {"value": "c"}}},
{"mark": {"type": "text"}, "encoding": {"x": {"datum": 558, "type": "quantitative", "scale": {"domain": [10, 626], "nice": false, "zero": false}}, "y": {"datum": 5, "type": "quantitative", "scale": {"domain": [-28.323, 7.767], "reverse": true, "nice": false, "zero": false}}, "text": {"value": "."}}},
{"mark": {"type": "text", "fontWeight": "bold"}, "encoding": {"x": {"datum": 26, "type": "quantitative", "scale": {"domain": [10, 626], "nice": false, "zero": false}}, "y": {"datum": 6, "type": "quantitative", "scale": {"domain": [-28.323, 7.767], "reverse": true, "nice": false, "zero": false}}, "text": {"value": "c"}}},
{"mark": {"type": "text"}, "encoding": {"x": {"datum": 40, "type": "quantitative", "scale": {"domain": [10, 626], "nice": false, "zero": false}}, "y": {"datum": 6, "type": "quantitative", "scale": {"domain": [-28.323, 7.767], "reverse": true, "nice": false, "zero": false}}, "text": {"value": "Time course of the x ("}}},
{"mark": {"type": "text", "fontStyle": "italic"}, "encoding": {"x": {"datum": 213, "type": "quantitative", "scale": {"domain": [10, 626], "nice": false, "zero": false}}, "y": {"datum": 6, "type": "quantitative", "scale": {"domain": [-28.323, 7.767], "reverse": true, "nice": false, "zero": false}}, "text": {"value": "black"}}},
{"mark": {"type": "text"}, "encoding": {"x": {"datum": 255, "type": "quantitative", "scale": {"domain": [10, 626], "nice": false, "zero": false}}, "y": {"datum": 6, "type": "quantitative", "scale": {"domain": [-28.323, 7.767], "reverse": true, "nice": false, "zero": false}}, "text": {"value": ") and y ("}}},
{"mark": {"type": "text", "fontStyle": "italic"}, "encoding": {"x": {"datum": 317, "type": "quantitative", "scale": {"domain": [10, 626], "nice": false, "zero": false}}, "y": {"datum": 6, "type": "quantitative", "scale": {"domain": [-28.323, 7.767], "reverse": true, "nice": false, "zero": false}}, "text": {"value": "blue"}}},
{"mark": {"type": "text"}, "encoding": {"x": {"datum": 349, "type": "quantitative", "scale": {"domain": [10, 626], "nice": false, "zero": false}}, "y": {"datum": 6, "type": "quantitative", "scale": {"domain": [-28.323, 7.767], "reverse": true, "nice": false, "zero": false}}, "text": {"value": ") components of the endpoint"}}},
{"mark": {"type": "text"}, "encoding": {"x": {"datum": 26, "type": "quantitative", "scale": {"domain": [10, 626], "nice": false, "zero": false}}, "y": {"datum": 7, "type": "quantitative", "scale": {"domain": [-28.323, 7.767], "reverse": true, "nice": false, "zero": false}}, "text": {"value": "trajectory residuals after removal of the drift, from t = 5 s to t = 60 s"}}}
]
}
],
"resolve": {"scale": {"x": "independent", "y": "independent", "stroke": "independent", "fill": "independent"}}
}
